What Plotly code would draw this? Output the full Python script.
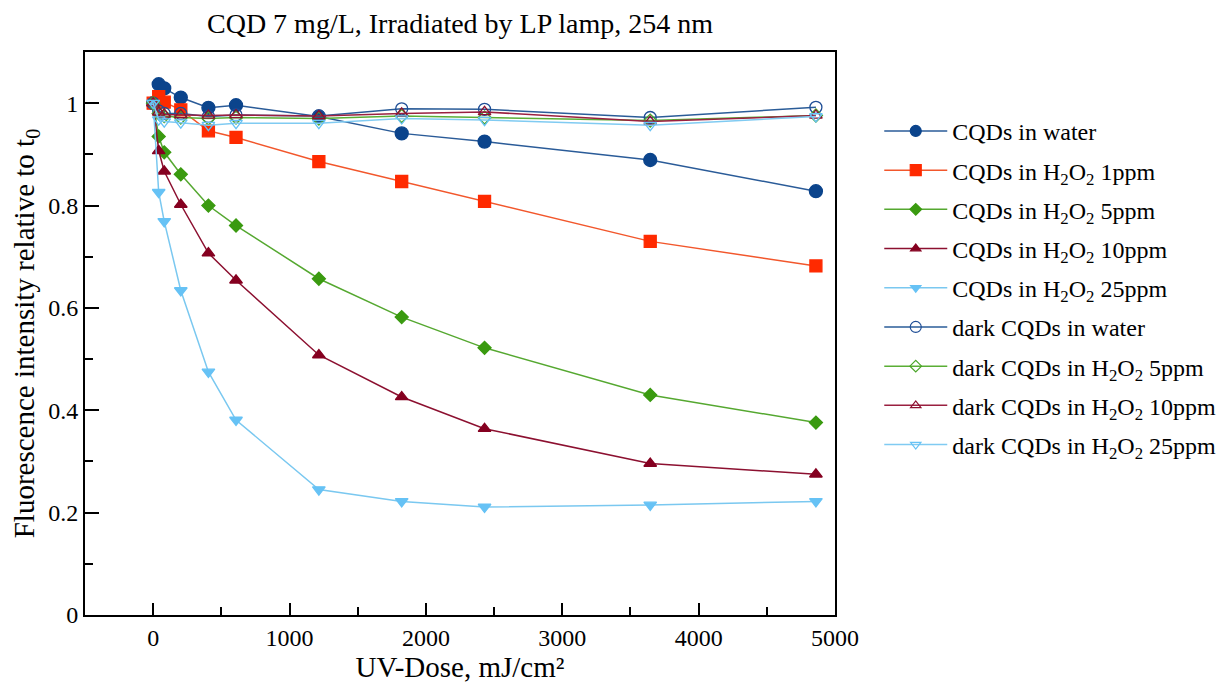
import plotly.graph_objects as go

dose = [0, 40.5, 81, 202.5, 405, 607.5, 1215, 1822.5, 2430, 3645, 4860]

water = [1.0, 1.037, 1.029, 1.011, 0.991, 0.996, 0.974, 0.941, 0.925, 0.889, 0.828]
h2o2_1 = [1.0, 1.013, 1.002, 0.987, 0.946, 0.933, 0.886, 0.847, 0.808, 0.730, 0.682]
h2o2_5 = [1.0, 0.935, 0.904, 0.861, 0.800, 0.761, 0.657, 0.582, 0.522, 0.430, 0.376]
h2o2_10 = [1.0, 0.907, 0.867, 0.802, 0.707, 0.654, 0.508, 0.426, 0.364, 0.296, 0.275]
h2o2_25 = [1.0, 0.826, 0.769, 0.634, 0.475, 0.381, 0.245, 0.222, 0.211, 0.215, 0.222]
dark_water = [1.0, 0.985, 0.980, 0.980, 0.974, 0.977, 0.975, 0.989, 0.988, 0.972, 0.992]
dark_5 = [1.0, 0.980, 0.975, 0.972, 0.970, 0.972, 0.970, 0.975, 0.972, 0.966, 0.976]
dark_10 = [1.0, 0.982, 0.978, 0.977, 0.976, 0.977, 0.975, 0.980, 0.983, 0.964, 0.976]
dark_25 = [1.0, 0.968, 0.964, 0.962, 0.957, 0.961, 0.961, 0.970, 0.967, 0.957, 0.974]

names = [
    "CQDs in water",
    "CQDs in H<sub>2</sub>O<sub>2</sub> 1ppm",
    "CQDs in H<sub>2</sub>O<sub>2</sub> 5ppm",
    "CQDs in H<sub>2</sub>O<sub>2</sub> 10ppm",
    "CQDs in H<sub>2</sub>O<sub>2</sub> 25ppm",
    "dark CQDs in water",
    "dark CQDs in H<sub>2</sub>O<sub>2</sub> 5ppm",
    "dark CQDs in H<sub>2</sub>O<sub>2</sub> 10ppm",
    "dark CQDs in H<sub>2</sub>O<sub>2</sub> 25ppm",
]
series = [water, h2o2_1, h2o2_5, h2o2_10, h2o2_25, dark_water, dark_5, dark_10, dark_25]
line_colors = ["#2a5b98", "#f2572c", "#55a830", "#8c1030", "#7ac8f0",
               "#2a5c98", "#5aae35", "#9a2040", "#80cbf2"]
marker_colors = ["#0b448c", "#ff2a00", "#3a9a10", "#850020", "#66c2f5",
                 "#1f4e96", "#4aa528", "#8c1030", "#66c2f5"]
symbols = ["circle", "square", "diamond", "triangle-up", "triangle-down",
           "circle-open", "diamond-open", "triangle-up-open", "triangle-down-open"]
sizes = [13, 12, 10, 11, 11, 12, 10, 11, 11]
legend_sizes = [11, 11, 9, 9, 9, 11, 9, 9, 9]

fig = go.Figure()
for i, (nm, ys) in enumerate(zip(names, series)):
    fig.add_trace(go.Scatter(
        x=dose, y=ys, name=nm, mode="lines+markers",
        line=dict(color=line_colors[i], width=1.5),
        marker=dict(symbol=symbols[i], size=sizes[i], color=marker_colors[i],
                    line=dict(width=1.3, color=marker_colors[i])),
        legendgroup=str(i), showlegend=False,
    ))
# legend entries (smaller symbols as in the reference legend)
for i, nm in enumerate(names):
    fig.add_trace(go.Scatter(
        x=[None], y=[None], name=nm, mode="lines+markers",
        line=dict(color=line_colors[i], width=1.5),
        marker=dict(symbol=symbols[i], size=legend_sizes[i], color=marker_colors[i],
                    line=dict(width=1.2, color=marker_colors[i])),
        legendgroup=str(i), showlegend=True, hoverinfo="skip",
    ))

# The page adds an 8px body margin, so the figure is 8px smaller in each direction
W, H = 1224, 678
L, T, R, B = 77, 44, 397, 71

font_family = "Liberation Serif"
fig.update_layout(
    width=W, height=H,
    margin=dict(l=L, r=R, t=T, b=B, autoexpand=False),
    paper_bgcolor="white", plot_bgcolor="white",
    font=dict(family=font_family, size=24, color="black"),
    title=dict(text="CQD 7 mg/L, Irradiated by LP lamp, 254 nm",
               x=(L + 375) / W, xanchor="center", y=1 - 15 / H, yanchor="middle",
               font=dict(size=28, family=font_family)),
    legend=dict(x=1.059, xanchor="left", y=0.899, yanchor="top",
                font=dict(size=24, family=font_family),
                itemwidth=63, tracegroupgap=5,
                bgcolor="rgba(0,0,0,0)", borderwidth=0),
    showlegend=True,
)
fig.update_xaxes(
    range=[-500, 5000], dtick=1000, tick0=0,
    ticks="inside", ticklen=12, tickwidth=2, tickcolor="black",
    minor=dict(ticks="inside", dtick=500, ticklen=8, tickwidth=2, tickcolor="black"),
    showline=True, linewidth=2, linecolor="black", mirror=True,
    showgrid=False, zeroline=False,
    tickfont=dict(size=24, family=font_family),
    title=dict(text="UV-Dose, mJ/cm²", font=dict(size=29, family=font_family), standoff=6),
)
fig.update_yaxes(
    range=[0, 1.1], dtick=0.2, tick0=0,
    ticks="inside", ticklen=14, tickwidth=2, tickcolor="black",
    minor=dict(ticks="inside", dtick=0.1, ticklen=8, tickwidth=2, tickcolor="black"),
    showline=True, linewidth=2, linecolor="black", mirror=True,
    showgrid=False, zeroline=False,
    tickfont=dict(size=24, family=font_family),
    title=dict(text="Fluorescence intensity relative to t<sub>0</sub>",
               font=dict(size=29, family=font_family), standoff=6),
)

fig.write_html("out.html")
